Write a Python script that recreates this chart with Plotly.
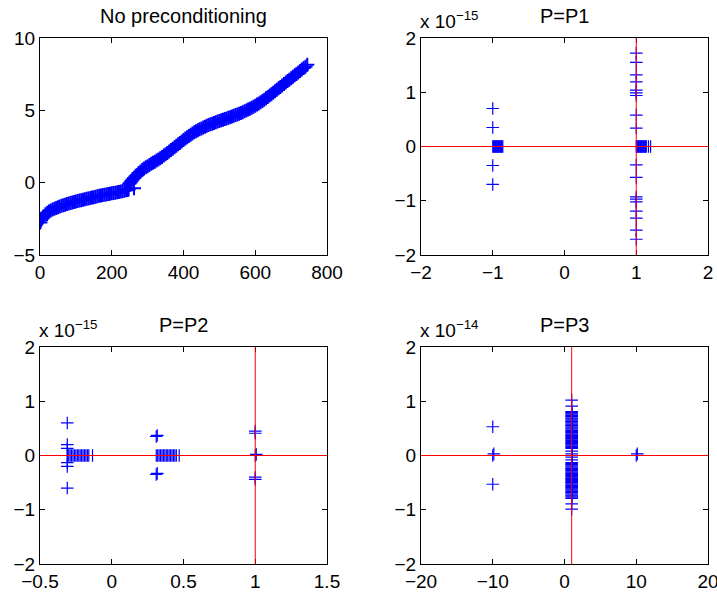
import plotly.graph_objects as go

# ---------------- data ----------------
# Subplot 1: no preconditioning (index vs eigenvalue)
np_index = [1, 3, 5, 8, 10, 15, 20, 25, 30, 35, 40, 45, 50, 55, 60, 65, 70, 75, 80, 85, 90, 95, 100,
            105, 110, 115, 120, 125, 130, 135, 140, 145, 150, 155, 160, 165, 170, 175, 180, 185, 190,
            195, 200, 205, 210, 215, 220, 225, 230, 235, 240, 244, 247,
            249, 252, 255, 258, 262, 262, 266, 270, 275, 280, 285, 290, 295, 300, 305, 310, 315, 320,
            325, 330, 335, 340, 345, 350, 355, 360, 365, 370, 375, 380, 385, 390, 395, 400, 405, 410,
            415, 420, 425, 430, 435, 440, 445, 450, 455, 460, 465, 470, 475, 480, 485, 490, 495, 500,
            505, 510, 515, 520, 525, 530, 535, 540, 545, 550, 555, 560, 565, 570, 575, 580, 585, 590,
            595, 600, 605, 610, 615, 620, 625, 630, 635, 640, 645, 650, 655, 660, 665, 670, 675, 680,
            685, 690, 695, 700, 705, 710, 715, 720, 725, 730, 735, 740, 745]
np_values = [-2.75, -2.60, -2.50, -2.40, -2.32, -2.19, -2.08, -1.99, -1.92, -1.86, -1.80, -1.75, -1.70,
             -1.65, -1.60, -1.56, -1.52, -1.48, -1.44, -1.40, -1.37, -1.33, -1.30, -1.27, -1.24, -1.21,
             -1.18, -1.15, -1.12, -1.09, -1.06, -1.03, -1.00, -0.97, -0.94, -0.91, -0.89, -0.86, -0.84,
             -0.81, -0.79, -0.76, -0.74, -0.71, -0.69, -0.66, -0.64, -0.61, -0.59, -0.56, -0.53, -0.50,
             -0.47,
             -0.08, 0.02, 0.12, 0.22, -0.38, 0.32, 0.42, 0.52, 0.66, 0.78, 0.89, 0.98, 1.06, 1.14, 1.22,
             1.30, 1.37, 1.45, 1.53, 1.61, 1.69, 1.78, 1.87, 1.96, 2.05, 2.15, 2.25, 2.35, 2.45, 2.55,
             2.65, 2.75, 2.85, 2.95, 3.05, 3.14, 3.23, 3.32, 3.40, 3.48, 3.55, 3.62, 3.69, 3.75, 3.81,
             3.87, 3.93, 3.98, 4.03, 4.08, 4.13, 4.17, 4.22, 4.26, 4.31, 4.35, 4.40, 4.44, 4.49, 4.53,
             4.58, 4.62, 4.67, 4.72, 4.77, 4.82, 4.87, 4.93, 4.99, 5.05, 5.11, 5.18, 5.25, 5.32, 5.40,
             5.48, 5.56, 5.65, 5.74, 5.83, 5.92, 6.02, 6.12, 6.22, 6.32, 6.42, 6.52, 6.62, 6.72, 6.82,
             6.92, 7.02, 7.12, 7.22, 7.32, 7.42, 7.52, 7.62, 7.72, 7.82, 7.92, 8.02, 8.15]

# Subplot 2: P = P1 (real part, imaginary part in units of 1e-15)
p1_re = ([-1.0, -1.0, -1.0, -1.0]
         + [-1.00, -0.99, -0.98, -0.97, -0.96, -0.95, -0.94, -0.93, -0.92, -0.91, -0.90, -0.89, -0.88, -0.87, -0.86]
         + [1.0] * 18
         + [1.00, 1.01, 1.02, 1.03, 1.04, 1.05, 1.06, 1.07, 1.08, 1.09, 1.10, 1.11, 1.12, 1.13, 1.14, 1.17, 1.20])
p1_im = ([0.70, 0.35, -0.35, -0.70]
         + [0.0] * 15
         + [1.72, 1.55, 1.32, 1.19, 1.04, 0.99, 0.94, 0.58, 0.34, -0.34, -0.57, -0.93, -0.97, -1.02,
            -1.19, -1.32, -1.54, -1.71]
         + [0.0] * 17)

# Subplot 3: P = P2 (imaginary part in units of 1e-15)
p2_re = ([-0.31] * 6
         + [-0.31, -0.30, -0.29, -0.28, -0.27, -0.26, -0.25, -0.24, -0.23, -0.22, -0.21, -0.20, -0.19,
            -0.18, -0.17, -0.16, -0.134]
         + [0.31, 0.317, 0.31, 0.317]
         + [0.31, 0.32, 0.33, 0.34, 0.35, 0.36, 0.37, 0.38, 0.39, 0.40, 0.41, 0.42, 0.43, 0.44, 0.45, 0.47]
         + [1.0, 1.0, 1.0, 1.0, 1.0, 1.007])
p2_im = ([0.60, 0.20, 0.13, -0.13, -0.20, -0.60]
         + [0.0] * 17
         + [0.35, 0.37, -0.35, -0.33]
         + [0.0] * 16
         + [0.45, 0.41, -0.40, -0.44, 0.0, 0.02])

# Subplot 4: P = P3 (imaginary part in units of 1e-14)
p3_col_im = [1.02, 0.91, 0.81, 0.79, 0.78, 0.76, 0.74, 0.72, 0.71, 0.69, 0.67, 0.65, 0.63, 0.62, 0.60,
             0.58, 0.56, 0.55, 0.53, 0.51, 0.49, 0.47, 0.46, 0.44, 0.42, 0.40, 0.38, 0.37, 0.35, 0.33,
             0.31, 0.30, 0.28, 0.26, 0.24, 0.22, 0.21, 0.19, 0.17, 0.15, 0.13, 0.08, 0.03, 0.0, -0.03,
             -0.08, -0.13, -0.15, -0.17, -0.19, -0.21, -0.23, -0.24, -0.26, -0.28, -0.30, -0.32, -0.33,
             -0.35, -0.37, -0.39, -0.41, -0.42, -0.44, -0.46, -0.48, -0.50, -0.51, -0.53, -0.55, -0.57,
             -0.59, -0.60, -0.62, -0.64, -0.66, -0.68, -0.69, -0.71, -0.73, -0.75, -0.77, -0.79, -0.89, -0.99]
p3_re = [-10.0, -10.0, -9.85, -10.0, 10.0, 10.15] + [1.0] * len(p3_col_im)
p3_im = [0.53, 0.0, 0.03, -0.53, 0.0, 0.03] + p3_col_im

titles = ["No preconditioning", "P=P1", "P=P2", "P=P3"]
exponents = [None, "\u221215", "\u221215", "\u221214"]
x_ranges = [[0, 800], [-2, 2], [-0.5, 1.5], [-20, 20]]
y_ranges = [[-5, 10], [-2, 2], [-2, 2], [-2, 2]]
x_ticks = [[0, 200, 400, 600, 800], [-2, -1, 0, 1, 2], [-0.5, 0, 0.5, 1, 1.5], [-20, -10, 0, 10, 20]]
y_ticks = [[-5, 0, 5, 10], [-2, -1, 0, 1, 2], [-2, -1, 0, 1, 2], [-2, -1, 0, 1, 2]]
ref_real = 1
ref_imag = 0

# ---------------- figure ----------------
W, H = 717, 597
FONT = "Liberation Sans, Arial, Helvetica, sans-serif"

def px_x(p):
    return p / W

def px_y(p):
    return 1 - p / H

x_domains = [[px_x(40), px_x(327)], [px_x(421), px_x(708)], [px_x(40), px_x(327)], [px_x(421), px_x(708)]]
y_domains = [[px_y(255), px_y(38)], [px_y(255), px_y(38)], [px_y(564), px_y(347)], [px_y(564), px_y(347)]]

fig = go.Figure()
series = [(np_index, np_values), (p1_re, p1_im), (p2_re, p2_im), (p3_re, p3_im)]

for i, (xs, ys) in enumerate(series):
    sfx = "" if i == 0 else str(i + 1)
    if i == 0:
        mk = dict(symbol="cross-thin", size=10, color="#0000ff", line=dict(color="#0000ff", width=2))
    else:
        mk = dict(symbol="cross-thin", size=9, color="#0000ff", line=dict(color="#0000ff", width=1.2))
    fig.add_trace(go.Scatter(x=xs, y=ys, mode="markers", marker=mk, cliponaxis=True,
                             xaxis="x" + sfx, yaxis="y" + sfx, showlegend=False,
                             hoverinfo="skip"))

axis_common = dict(showline=True, linecolor="black", linewidth=1, mirror="ticks",
                   ticks="inside", ticklen=5, tickcolor="black", tickwidth=1,
                   showgrid=False, zeroline=False, showspikes=False,
                   tickmode="array", automargin=False, ticklabeloverflow="allow",
                   tickfont=dict(family=FONT, size=19, color="black"))

layout = dict(width=W, height=H, margin=dict(l=0, r=0, t=0, b=0),
              paper_bgcolor="white", plot_bgcolor="white", showlegend=False,
              hovermode=False)

annotations = []
shapes = []
for i in range(4):
    sfx = "" if i == 0 else str(i + 1)
    layout["xaxis" + sfx] = dict(axis_common, domain=x_domains[i], range=x_ranges[i],
                                 tickvals=x_ticks[i], anchor="y" + sfx)
    layout["yaxis" + sfx] = dict(axis_common, domain=y_domains[i], range=y_ranges[i],
                                 tickvals=y_ticks[i], anchor="x" + sfx)
    annotations.append(dict(text=titles[i], xref=("x" + sfx) + " domain", yref=("y" + sfx) + " domain",
                            x=0.5, y=1, xanchor="center", yanchor="bottom", yshift=9,
                            showarrow=False, font=dict(family=FONT, size=20, color="black")))
    if exponents[i]:
        annotations.append(dict(text="x 10<sup>" + exponents[i] + "</sup>",
                                xref=("x" + sfx) + " domain", yref=("y" + sfx) + " domain",
                                x=0, y=1, xanchor="left", yanchor="bottom", yshift=4, xshift=-3,
                                showarrow=False, font=dict(family=FONT, size=19, color="black")))
        # red reference lines through (ref_real, ref_imag)
        shapes.append(dict(type="line", xref="x" + sfx, yref="y" + sfx,
                           x0=x_ranges[i][0], x1=x_ranges[i][1], y0=ref_imag, y1=ref_imag,
                           layer="above", line=dict(color="#ff0000", width=1)))
        shapes.append(dict(type="line", xref="x" + sfx, yref="y" + sfx,
                           x0=ref_real, x1=ref_real, y0=y_ranges[i][0], y1=y_ranges[i][1],
                           layer="above", line=dict(color="#ff0000", width=1)))

layout["annotations"] = annotations
layout["shapes"] = shapes
fig.update_layout(**layout)

fig.write_html("out.html", config={"displayModeBar": False, "staticPlot": True},
               post_script="document.body.style.margin='0px';")
